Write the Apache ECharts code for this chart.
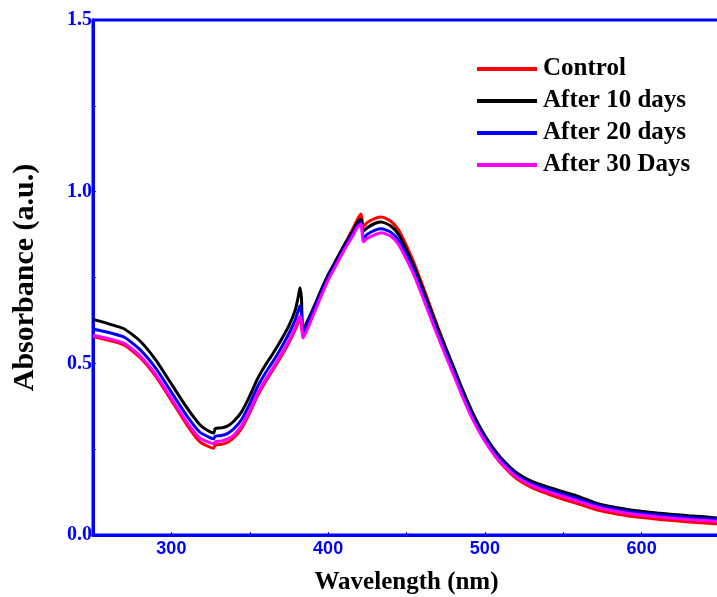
<!DOCTYPE html>
<html>
<head>
<meta charset="utf-8">
<script src="https://cdn.jsdelivr.net/npm/echarts@6/dist/echarts.min.js"></script>
<style>html,body{margin:0;padding:0;background:#fff;overflow:hidden;width:717px;height:597px}#c{position:absolute;left:0;top:0;width:717px;height:597px}</style>
</head>
<body>
<div id="c"></div>
<script>
const wavelengths = [250,260,270,280,290,300,310,318,324,327,328,332,336,340,345,350,355,360,365,370,375,379,381,382,383,384,390,395,400,405,410,415,419,421,422.5,425,430,434,440,445,450,455,460,465,470,475,480,485,490,495,500,505,510,520,530,540,550,560,570,580,590,600,610,620,630,640,650];
const seriesNames = ["Control","After 10 days","After 20 days","After 30 Days"];
const control = [0.578,0.567,0.553,0.517,0.462,0.392,0.320,0.272,0.257,0.253,0.262,0.264,0.270,0.284,0.312,0.356,0.406,0.446,0.482,0.520,0.560,0.598,0.620,0.630,0.612,0.578,0.645,0.700,0.752,0.797,0.842,0.885,0.922,0.935,0.898,0.910,0.922,0.926,0.914,0.888,0.842,0.790,0.730,0.668,0.605,0.545,0.486,0.425,0.368,0.318,0.276,0.240,0.210,0.165,0.138,0.120,0.104,0.090,0.075,0.065,0.057,0.051,0.046,0.042,0.038,0.035,0.032];
const after10 = [0.628,0.615,0.600,0.565,0.510,0.440,0.370,0.322,0.302,0.297,0.310,0.312,0.318,0.332,0.360,0.405,0.455,0.495,0.530,0.568,0.610,0.655,0.695,0.720,0.690,0.600,0.655,0.708,0.758,0.800,0.842,0.880,0.912,0.920,0.885,0.895,0.908,0.912,0.900,0.875,0.830,0.780,0.722,0.662,0.602,0.545,0.490,0.432,0.378,0.330,0.290,0.255,0.226,0.182,0.156,0.140,0.126,0.112,0.094,0.083,0.075,0.069,0.064,0.060,0.056,0.053,0.049];
const after20 = [0.600,0.590,0.576,0.540,0.486,0.416,0.346,0.300,0.285,0.280,0.288,0.290,0.296,0.310,0.338,0.382,0.432,0.472,0.507,0.545,0.587,0.627,0.655,0.668,0.645,0.590,0.648,0.700,0.750,0.792,0.834,0.872,0.903,0.910,0.865,0.876,0.888,0.892,0.882,0.858,0.815,0.766,0.708,0.648,0.588,0.532,0.477,0.420,0.366,0.320,0.281,0.247,0.219,0.176,0.150,0.134,0.119,0.105,0.089,0.078,0.070,0.064,0.059,0.055,0.051,0.048,0.045];
const after30 = [0.582,0.572,0.558,0.522,0.468,0.398,0.328,0.283,0.270,0.266,0.272,0.274,0.280,0.292,0.320,0.362,0.412,0.452,0.488,0.526,0.566,0.605,0.628,0.638,0.620,0.574,0.635,0.690,0.742,0.785,0.828,0.866,0.898,0.905,0.854,0.864,0.875,0.880,0.870,0.846,0.803,0.755,0.697,0.637,0.578,0.522,0.467,0.411,0.358,0.312,0.273,0.240,0.212,0.170,0.144,0.127,0.112,0.098,0.083,0.072,0.064,0.058,0.053,0.049,0.045,0.042,0.039];
const xTicks = [300,400,500,600];
const yTicks = ["0.0","0.5","1.0","1.5"];

const colors = ["#ff0000","#000000","#0000ff","#ff00ff"];
const values = [control, after10, after20, after30];
const chart = echarts.init(document.getElementById('c'), null, {renderer:'canvas', width: 717, height: 597});
const serif = '"Liberation Serif", "Times New Roman", serif';
const sans = '"Liberation Sans", Arial, sans-serif';
chart.setOption({
  animation: false,
  backgroundColor: '#fff',
  grid: {left: 93, top: 20, width: 627, height: 515, show: true, borderColor: '#0000ff', borderWidth: 3, containLabel: false, outerBoundsMode: 'none'},
  legend: {
    orient: 'vertical', left: 477, top: 56, padding: 0, itemWidth: 60, itemHeight: 4, itemGap: 6, icon: 'rect',
    data: seriesNames,
    textStyle: {fontFamily: serif, fontWeight: 'bold', fontSize: 25, color: '#000', lineHeight: 26, padding: [0,0,0,1]}
  },
  xAxis: {
    type: 'value', min: 250, max: 650, interval: 50,
    name: 'Wavelength (nm)', nameLocation: 'middle', nameGap: 35,
    nameTextStyle: {fontFamily: serif, fontWeight: 'bold', fontSize: 25, color: '#000'},
    axisLine: {show: true, lineStyle: {color: '#0000ff', width: 3}},
    axisTick: {show: true, inside: true, length: 3, lineStyle: {color: '#0000ff', width: 1}},
    splitLine: {show: false},
    axisLabel: {
      fontFamily: sans, fontWeight: 'bold', fontSize: 18, color: '#0000ff', margin: 5,
      formatter: v => xTicks.includes(v) ? String(v) : ''
    }
  },
  yAxis: {
    type: 'value', min: 0, max: 1.5, interval: 0.25,
    name: 'Absorbance (a.u.)', nameLocation: 'middle', nameGap: 53, nameRotate: 90,
    nameTextStyle: {fontFamily: serif, fontWeight: 'bold', fontSize: 30, color: '#000'},
    axisLine: {show: true, lineStyle: {color: '#0000ff', width: 3}},
    axisTick: {show: true, inside: true, length: 3, lineStyle: {color: '#0000ff', width: 1}},
    splitLine: {show: false},
    axisLabel: {
      fontFamily: serif, fontWeight: 'bold', fontSize: 20, color: '#0000ff', margin: 1,
      formatter: v => { const s = v.toFixed(1); return (Math.abs(v*2 - Math.round(v*2)) < 1e-6 && yTicks.includes(s)) ? s : ''; }
    }
  },
  series: seriesNames.map((n, i) => ({
    name: n, type: 'line', symbol: 'none', smooth: 0.2,
    color: colors[i],
    lineStyle: {color: colors[i], width: 3},
    data: wavelengths.map((w, j) => [w, values[i][j]])
  }))
});
</script>
</body>
</html>
